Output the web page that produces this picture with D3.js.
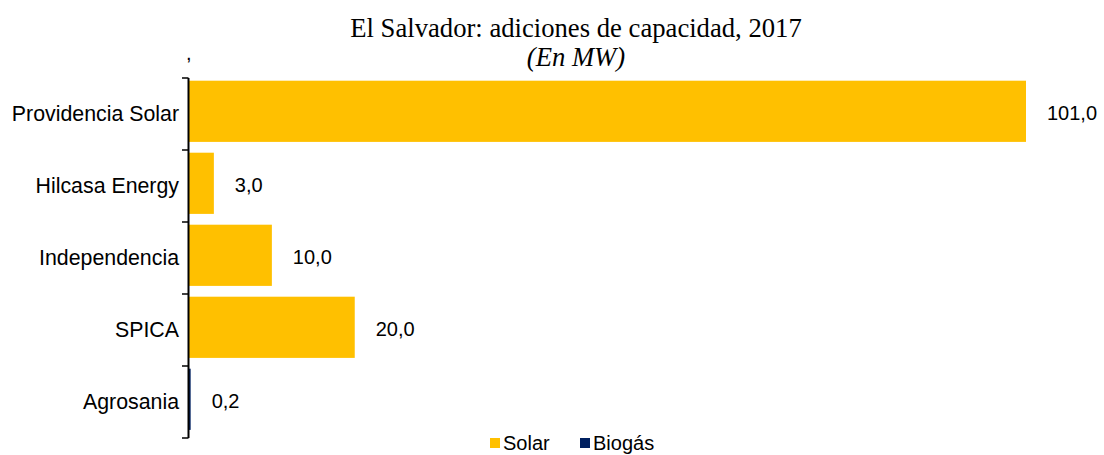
<!DOCTYPE html>
<html>
<head>
<meta charset="utf-8">
<script src="https://cdn.jsdelivr.net/npm/d3@7"></script>
<style>
body{margin:0;background:#fff;}
svg{display:block;}
.cat{font-family:"Liberation Sans",Arial,sans-serif;font-size:21.33px;fill:#000;}
.val{font-family:"Liberation Sans",Arial,sans-serif;font-size:20px;fill:#000;}
.title{font-family:"Liberation Serif","Times New Roman",serif;font-size:26.67px;fill:#000;}
</style>
</head>
<body>
<svg id="chart"></svg>
<script>
var categories=["Providencia Solar","Hilcasa Energy","Independencia","SPICA","Agrosania"];
var solar=[101,3,10,20,0];
var biogas=[0,0,0,0,0.2];
var labels=["101,0","3,0","10,0","20,0","0,2"];
var seriesNames=["Solar","Biogás"];
var colors=["#FFC000","#002060"];

var w=1104;
var h=455;
var margin={left:189,right:78,top:78,bottom:17};

var svg=d3.select("#chart")
          .attr("width",w)
          .attr("height",h);

var rows=categories.map(function(c,i){
  return {cat:c,Solar:solar[i],"Biogás":biogas[i],label:labels[i]};
});

var xScale=d3.scaleLinear()
             .domain([0,101])
             .range([margin.left,1026]);
var yScale=d3.scaleBand()
             .domain(categories)
             .range([margin.top,h-margin.bottom])
             .paddingInner(0.15)
             .paddingOuter(0.075)
             .align(0.25);

var stack=d3.stack().keys(seriesNames);
var layers=stack(rows);

svg.selectAll("g.layer")
   .data(layers)
   .enter()
   .append("g")
   .attr("class","layer")
   .attr("fill",function(d,i){return colors[i];})
   .selectAll("rect")
   .data(function(d){return d;})
   .enter()
   .append("rect")
   .attr("x",function(d){return xScale(d[0]);})
   .attr("y",function(d){return yScale(d.data.cat);})
   .attr("width",function(d){return xScale(d[1])-xScale(d[0]);})
   .attr("height",yScale.bandwidth());

// value labels
svg.selectAll("text.val")
   .data(rows)
   .enter()
   .append("text")
   .attr("class","val")
   .attr("x",function(d){return xScale(d.Solar+d["Biogás"])+21;})
   .attr("y",function(d){return yScale(d.cat)+yScale.bandwidth()/2+1.5;})
   .attr("dy","0.35em")
   .text(function(d){return d.label;});

// category axis, ticks sit on band boundaries
var step=yScale.step();
var y0=margin.top;
var y1=h-margin.bottom;
var axis=svg.append("g").attr("class","yAxis");
axis.append("line")
    .attr("x1",margin.left-0.5).attr("x2",margin.left-0.5)
    .attr("y1",y0).attr("y2",y1)
    .attr("stroke","#000").attr("stroke-width",2);
var bounds=d3.range(categories.length+1).map(function(i){return y0+i*step;});
axis.selectAll("line.tick")
    .data(bounds)
    .enter()
    .append("line")
    .attr("class","tick")
    .attr("x1",margin.left-7).attr("x2",margin.left-0.5)
    .attr("y1",function(d){return d;}).attr("y2",function(d){return d;})
    .attr("stroke","#000").attr("stroke-width",1.5);
axis.selectAll("text.cat")
    .data(categories)
    .enter()
    .append("text")
    .attr("class","cat")
    .attr("x",margin.left-10)
    .attr("y",function(d,i){return y0+(i+0.5)*step;})
    .attr("dy","0.35em")
    .attr("text-anchor","end")
    .text(function(d){return d;});

// title
svg.append("text")
   .attr("class","title")
   .attr("x",576).attr("y",37)
   .attr("text-anchor","middle")
   .text("El Salvador: adiciones de capacidad, 2017");
svg.append("text")
   .attr("class","title")
   .attr("x",576).attr("y",66)
   .attr("text-anchor","middle")
   .style("font-style","italic")
   .text("(En MW)");
svg.append("text")
   .attr("class","val")
   .attr("x",186).attr("y",60)
   .text(",");

// legend
var legend=svg.append("g").attr("transform","translate(490,434)");
var lx=[0,90];
seriesNames.forEach(function(s,i){
  legend.append("rect")
        .attr("x",lx[i]).attr("y",4)
        .attr("width",10).attr("height",10)
        .attr("fill",colors[i]);
  legend.append("text")
        .attr("class","val")
        .attr("x",lx[i]+13).attr("y",9)
        .attr("dy","0.35em")
        .text(s);
});
</script>
</body>
</html>
